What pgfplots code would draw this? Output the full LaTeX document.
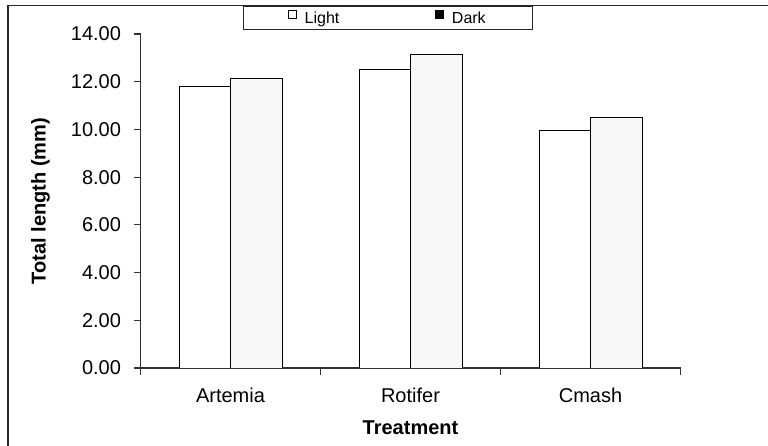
\documentclass[border=0pt]{standalone}
\usepackage{pgfplots}
\pgfplotsset{compat=1.18}
\usepackage{fontspec}
\setmainfont{Liberation Sans}
\definecolor{darkfill}{HTML}{F7F7F7}
\begin{document}
\begin{tikzpicture}
\useasboundingbox (0pt,0pt) rectangle (768pt,446pt);
\fill[white] (0pt,0pt) rectangle (768pt,446pt);
\draw[line width=1.4pt, black!85] (8pt,0pt) -- (8pt,440.5pt) -- (768pt,440.5pt);
\begin{axis}[
  at={(140.5pt,78pt)}, anchor=south west,
  scale only axis, width=540pt, height=334pt,
  ymin=0, ymax=14, ytick={0,2,...,14},
  xmin=-0.5, xmax=2.5,
  xtick={-0.5,0.5,1.5,2.5}, xticklabels={},
  extra x ticks={0,1,2},
  extra x tick labels={Artemia,Rotifer,Cmash},
  extra x tick style={major tick length=0pt, tick label style={yshift=-16pt}},
  axis x line*=bottom, axis y line*=left,
  axis line style={draw=black!80, line width=1.2pt},
  tick align=outside, major tick length=7pt,
  tick style={draw=black!80, line width=1.2pt},
  ticklabel style={font=\fontsize{20}{24}\selectfont},
  yticklabel style={xshift=-9pt},
  /pgf/number format/.cd, fixed, fixed zerofill, precision=2, assume math mode=true,
  /pgfplots/.cd,
  ylabel={Total length (mm)},
  xlabel={Treatment},
  every axis y label/.style={at={(axis description cs:-0.185,0.5)}, rotate=90, anchor=center,
    font=\fontsize{20}{24}\selectfont\bfseries},
  every axis x label/.style={at={(axis description cs:0.5,-0.18)}, anchor=center,
    font=\fontsize{20}{24}\selectfont\bfseries},
  legend style={at={(axis description cs:0.189,1.084)}, anchor=north west,
    draw=black!85, line width=1pt, fill=white,
    font=\fontsize{16}{19}\selectfont,
    inner xsep=45pt, inner ysep=3pt,
    /tikz/every odd column/.append style={column sep=6pt},
    /tikz/every even column/.append style={column sep=94pt}},
  legend columns=2,
]
\addplot[ybar, bar width=51.5pt, bar shift=-25.75pt, fill=white, draw=black, line width=0.9pt,
  legend image code/.code={\draw[black, line width=0.6pt, fill=white] (0pt,0pt) rectangle (8pt,8pt);}]
  coordinates {(0,11.81) (1,12.51) (2,9.95)};
\addplot[ybar, bar width=51.5pt, bar shift=25.75pt, fill=darkfill, draw=black, line width=0.9pt,
  legend image code/.code={\draw[black, line width=0.6pt, fill=black] (0pt,0pt) rectangle (8pt,8pt);}]
  coordinates {(0,12.13) (1,13.15) (2,10.52)};
\legend{Light,Dark}
\end{axis}
\end{tikzpicture}
\end{document}
